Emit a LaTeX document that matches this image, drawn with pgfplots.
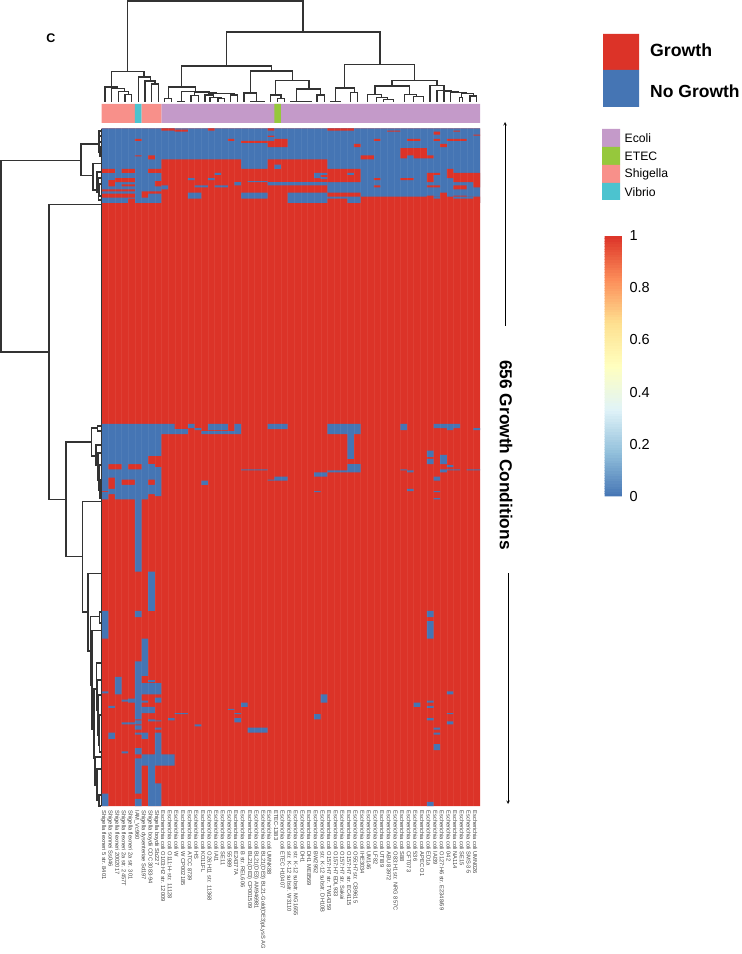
\documentclass[border=0pt]{standalone}
\usepackage{fontspec}
\setmainfont{Liberation Sans}
\usepackage{pgfplots}
\pgfplotsset{compat=1.18}
\definecolor{cgrow}{HTML}{DC3328}
\definecolor{cno}{HTML}{4575B4}
\definecolor{cecoli}{HTML}{C49AC9}
\definecolor{cetec}{HTML}{96C83C}
\definecolor{cshig}{HTML}{F8908A}
\definecolor{cvib}{HTML}{4CC3CF}
\definecolor{cdend}{HTML}{333333}
\definecolor{b1}{HTML}{91BFDB}\definecolor{b2}{HTML}{E0F3F8}\definecolor{b3}{HTML}{FFFFBF}\definecolor{b4}{HTML}{FEE090}\definecolor{b5}{HTML}{FC8D59}
\pgfplotsset{colormap={rdylbu}{color(0)=(cno) color(1)=(b1) color(2)=(b2) color(3)=(b3) color(4)=(b4) color(5)=(b5) color(6)=(cgrow)}}
% heat map blocks: row from/row to/column from/column to
\def\BlueTop{0/72/0/57}
\def\RedTop{0/2/9/11,1/3/11/13,0/2/16/17,0/2/25/26,0/2/34/38,2/3/43/45,3/6/50/51,2/3/53/54,6/7/56/57,7/8/25/26,
10/12/5/6,10/12/19/20,10/12/41/42,10/12/46/48,10/12/50/51,10/12/52/55,12/14/21/25,12/18/25/26,10/18/26/28,
15/18/38/39,15/18/51/52,19/29/45/46,19/26/46/47,19/29/47/49,26/29/49/50,
26/27/5/6,26/30/7/8,26/30/39/41,
30/39/9/21,30/39/25/34,39/52/9/39,39/43/0/2,39/43/3/5,39/43/7/9,
39/48/52/53,43/52/49/50,43/45/50/51,43/52/53/57,52/57/56/57,48/52/2/5,51/56/8/9,
52/62/9/34,62/66/34/39,54/56/3/5,50/56/1/2,59/61/0/5,61/63/6/9,63/67/0/5,63/67/6/7,
62/72/9/21,62/68/25/28,68/72/21/28,68/72/34/37,66/72/39/57,68/72/4/5,
55/57/41/42,55/57/49/51,55/59/53/55,65/68/49/50,62/66/51/52,65/66/53/55,48/50/41/42,48/50/45/47}
\def\BlueRest{35/39/26/27,43/48/32/33,43/45/33/34,47/49/33/34,43/45/37/38,43/45/17/18,48/50/13/14,48/50/16/17,51/52/22/25,
52/55/20/21,52/55/25/34,55/57/14/16,55/57/17/19,55/59/9/10,62/68/13/15,66/68/50/51,66/68/53/56,
286/317/0/9,317/325/0/7,325/330/0/1,325/330/3/4,325/330/6/8,328/330/8/9,330/338/0/9,338/340/0/1,338/340/2/9,
340/345/0/1,340/345/2/3,340/345/5/7,340/345/8/9,345/349/0/1,345/349/2/9,349/351/0/9,352/354/0/9,351/352/1/9,
354/356/0/1,354/356/2/7,354/356/8/9,356/359/0/1,356/359/2/7,359/429/5/6,
286/293/9/11,291/296/9/13,286/290/13/14,290/292/14/15,293/296/15/21,286/292/16/19,286/293/20/21,286/291/25/28,
286/296/34/39,296/320/37/38,325/333/37/39,331/333/34/37,333/337/32/34,330/331/21/25,340/341/25/28,337/341/26/28,
341/345/15/16,351/352/32/33,286/292/45/46,286/290/50/54,290/292/52/53,290/292/56/57,312/318/49/50,320/325/49/50,
316/325/51/52,326/328/52/53,330/333/51/52,330/331/52/54,330/331/55/57,330/331/45/46,331/333/46/47,337/341/50/51,
349/351/46/47,351/352/50/51,358/359/50/51,
429/467/7/8,467/473/5/6,467/494/0/1,467/473/49/50,477/494/49/50,494/516/6/7,516/530/5/7,530/537/5/6,534/536/7/8,
537/548/5/9,531/548/2/3,545/547/0/1,553/555/3/5,552/556/4/6,548/567/5/6,551/556/8/9,560/566/6/8,554/556/6/7,
559/561/1/2,567/572/5/6,573/577/5/6,578/582/5/6,572/574/7/8,573/574/8/9,580/582/8/9,575/577/3/5,
566/567/11/13,571/573/10/11,577/579/14/15,562/563/19/20,566/567/20/21,571/575/20/21,556/560/21/22,580/585/22/25,
548/556/33/34,567/572/32/33,556/560/47/48,554/556/49/50,559/561/49/50,571/573/49/50,580/582/50/51,585/587/50/51,
596/602/50/51,545/548/52/53,566/567/52/53,574/577/52/53,585/591/1/2,585/587/5/7,587/591/6/7,585/606/8/9,
603/605/3/4,600/606/5/6,606/617/6/11,610/617/5/6,617/644/5/6,649/656/5/6,617/656/7/8,634/656/8/9,644/656/0/1,652/656/49/50}
\def\pathBlueA{}\def\pathRed{}\def\pathBlueB{}
\foreach \ra/\rb/\ca/\cb in \BlueTop {\xdef\pathBlueA{\pathBlueA (\ca,\ra)(\cb,\ra)(\cb,\rb)(\ca,\rb)(\ca,\ra)(nan,nan)}}
\foreach \ra/\rb/\ca/\cb in \RedTop {\xdef\pathRed{\pathRed (\ca,\ra)(\cb,\ra)(\cb,\rb)(\ca,\rb)(\ca,\ra)(nan,nan)}}
\foreach \ra/\rb/\ca/\cb in \BlueRest {\xdef\pathBlueB{\pathBlueB (\ca,\ra)(\cb,\ra)(\cb,\rb)(\ca,\rb)(\ca,\ra)(nan,nan)}}
\begin{document}
\begin{tikzpicture}[x=1bp,y=1bp]
\useasboundingbox (0,0) rectangle (742,954);
% heat map
\begin{axis}[at={(101.7bp,148bp)},anchor=south west,scale only axis,width=378.3bp,height=677.5bp,
  xmin=0,xmax=57,ymin=0,ymax=656,y dir=reverse,axis on top,clip=true,
  axis line style={draw=none},major tick length=0,minor tick length=0,
  point meta min=0,point meta max=1,unbounded coords=jump,
  xtick={0.5,1.5,...,56.5},ytick=\empty,
  minor xtick={1,2,...,56},minor ytick={2,4,...,654},
  xminorgrids=true,yminorgrids=true,
  minor grid style={white,opacity=0.06,line width=0.35bp},
  xticklabels={Shigella flexneri 5 str. 8401,Shigella sonnei Ss046,Shigella flexneri 2002017,Shigella flexneri 2a str. 2457T,Shigella flexneri 2a str. 301,IAM\_Vc960,Shigella dysenteriae Sd197,Shigella boydii CDC 3083-94,Shigella boydii Sb227,
  Escherichia coli O103:H2 str. 12009,Escherichia coli O111:H- str. 11128,Escherichia coli W,Escherichia coli W CP002185,Escherichia coli ATCC 8739,Escherichia coli HS,Escherichia coli KO11FL,Escherichia coli O26:H11 str. 11368,Escherichia coli IAI1,Escherichia coli SE11,Escherichia coli 55989,Escherichia coli E24377A,Escherichia coli B str. REL606,Escherichia coli BL21(DE3) CP001509,Escherichia coli BL21(DE3) AM946981,Escherichia coli BL21(DE3) BL21-Gold(DE3)pLysS AG,Escherichia coli UMNK88,ETEC-1383,Escherichia coli ETEC H10407,Escherichia coli str. K-12 substr. W3110,Escherichia coli str. K-12 substr. MG1655,Escherichia coli DH1,Escherichia coli DH1 ME8569,Escherichia coli BW2952,Escherichia coli str. K-12 substr. DH10B,Escherichia coli O157:H7 str. TW14359,Escherichia coli O157:H7 EDL933,Escherichia coli O157:H7 str. Sakai,Escherichia coli O157:H7 str. EC4115,Escherichia coli O55:H7 str. CB9615,Escherichia coli IHE3034,Escherichia coli UM146,Escherichia coli LF82,Escherichia coli UTI89,Escherichia coli ABU 83972,Escherichia coli O83:H1 str. NRG 857C,Escherichia coli S88,Escherichia coli CFT073,Escherichia coli 536,Escherichia coli APEC O1,Escherichia coli ED1a,Escherichia coli IAI39,Escherichia coli O127:H6 str. E2348/69,Escherichia coli 042,Escherichia coli NA114,Escherichia coli SE15,Escherichia coli SMS-3-5,Escherichia coli UMN026},
  xticklabel style={rotate=-90,anchor=west,font=\fontsize{5.7bp}{6.5bp}\selectfont,text=black!75,inner xsep=0pt,xshift=-0.2bp,yshift=-1.5bp,inner ysep=0pt},
  xticklabel shift=4.5bp,
  colorbar sampled,
  colormap name=rdylbu,
  colorbar style={samples=101,at={(parent axis.north west)},anchor=north west,xshift=494.3bp,yshift=-107.3bp,
    width=18bp,height=260.5bp,ytick={0,0.2,0.4,0.6,0.8,1},major tick length=0,axis line style={draw=none},
    yticklabel style={font=\fontsize{14.5bp}{16bp}\selectfont,/pgf/number format/assume math mode=true,xshift=3.5bp}},
]
\addplot[fill=cgrow,draw=none] coordinates {(0,0)(57,0)(57,656)(0,656)(0,0)};
\edef\tmp{\noexpand\addplot[fill=cno,draw=none] coordinates {\pathBlueA};}\tmp
\edef\tmp{\noexpand\addplot[fill=cgrow,draw=none] coordinates {\pathRed};}\tmp
\edef\tmp{\noexpand\addplot[fill=cno,draw=none] coordinates {\pathBlueB};}\tmp
\end{axis}
% annotation bar
\begin{axis}[at={(101.7bp,831bp)},anchor=south west,scale only axis,width=378.3bp,height=19bp,
  xmin=0,xmax=57,ymin=0,ymax=1,hide axis]
\addplot[fill=cecoli,draw=none] coordinates {(9,0)(57,0)(57,1)(9,1)(9,0)};
\addplot[fill=cetec,draw=none] coordinates {(26,0)(27,0)(27,1)(26,1)(26,0)};
\addplot[fill=cshig,draw=none] coordinates {(0,0)(5,0)(5,1)(0,1)(0,0)};
\addplot[fill=cvib,draw=none] coordinates {(5,0)(6,0)(6,1)(5,1)(5,0)};
\addplot[fill=cshig,draw=none] coordinates {(6,0)(9,0)(9,1)(6,1)(6,0)};
\end{axis}
% top dendrogram (x: 35..1170, y: 0..305 down)
\begin{axis}[at={(101.7bp,852.3bp)},anchor=south west,scale only axis,width=378.3bp,height=101.7bp,
  xmin=35,xmax=1170,ymin=0,ymax=305,y dir=reverse,hide axis,clip=false,unbounded coords=jump]
\addplot[cdend,line width=1.1bp,line cap=butt,line join=miter] coordinates {
(113,215)(113,3)(639,3)(639,96)(nan,nan)
(409,198)(409,96)(870,96)(870,193)(nan,nan)
(275,261)(275,198)(545,198)(545,213)(nan,nan)
(481,279)(481,213)(607,213)(607,241)(nan,nan)
(557,285)(557,241)(657,241)(657,267)(nan,nan)
(619,305)(619,267)(692,267)(692,285)(nan,nan)
(681,305)(681,285)(703,285)(703,305)(nan,nan)
(600,304)(665,304)(nan,nan)
(541,305)(541,285)(573,285)(573,296)(nan,nan)
(562,305)(562,296)(583,296)(583,305)(nan,nan)
(462,305)(462,279)(499,279)(499,304)(nan,nan)
(480,304)(524,304)(nan,nan)
(235,295)(235,261)(316,261)(316,275)(nan,nan)
(224,305)(224,295)(245,295)(245,305)(nan,nan)
(275,304)(275,275)(358,275)(358,278)(nan,nan)
(262,304)(285,304)(nan,nan)
(314,287)(314,278)(378,278)(378,281)(nan,nan)
(303,305)(303,287)(325,287)(325,305)(nan,nan)
(355,285)(355,281)(433,281)(433,285)(nan,nan)
(422,305)(422,285)(443,285)(443,305)(nan,nan)
(345,305)(345,285)(370,285)(370,292)(nan,nan)
(360,305)(360,292)(395,292)(395,295)(nan,nan)
(384,305)(384,295)(404,295)(404,305)(nan,nan)
(764,264)(764,193)(973,193)(973,241)(nan,nan)
(736,304)(736,264)(793,264)(793,278)(nan,nan)
(720,304)(752,304)(nan,nan)
(782,305)(782,278)(803,278)(803,305)(nan,nan)
(906,258)(906,241)(1041,241)(1041,256)(nan,nan)
(855,284)(855,258)(959,258)(959,284)(nan,nan)
(832,305)(832,284)(875,284)(875,293)(nan,nan)
(860,305)(860,293)(892,293)(892,299)(nan,nan)
(880,305)(880,299)(910,299)(910,305)(nan,nan)
(943,305)(943,284)(980,284)(980,290)(nan,nan)
(970,305)(970,290)(1000,290)(1000,305)(nan,nan)
(1020,305)(1020,256)(1062,256)(1062,271)(nan,nan)
(1041,305)(1041,271)(1083,271)(1083,274)(nan,nan)
(1062,305)(1062,274)(1105,274)(1105,278)(nan,nan)
(1082,305)(1082,278)(1128,278)(1128,281)(nan,nan)
(1109,305)(1109,292)(1118,292)(1118,305)(nan,nan)
(1114,292)(1114,281)(1150,281)(1150,288)(nan,nan)
(1140,305)(1140,288)(1160,288)(1160,305)(nan,nan)
(64,261)(64,215)(162,215)(162,231)(nan,nan)
(45,305)(45,261)(83,261)(83,266)(nan,nan)
(64,305)(64,266)(103,266)(103,275)(nan,nan)
(85,305)(85,275)(115,275)(115,283)(nan,nan)
(105,305)(105,283)(125,283)(125,305)(nan,nan)
(145,305)(145,231)(182,231)(182,243)(nan,nan)
(165,305)(165,243)(195,243)(195,252)(nan,nan)
(185,305)(185,252)(205,252)(205,305)(nan,nan)
};
\end{axis}
% page-scale axis: left dendrogram, legends, notes
\begin{axis}[at={(0bp,0bp)},anchor=south west,scale only axis,width=742bp,height=954bp,
  xmin=0,xmax=742,ymin=0,ymax=954,y dir=reverse,hide axis,clip=false,unbounded coords=jump]
\addplot[cdend,line width=1.05bp] coordinates {
(81,160.7)(1,160.7)(1,352)(49,352)(nan,nan)
(99.3,144)(81,144)(81,175.7)(93,175.7)(nan,nan)
(101,131)(99,131)(99,152)(100,152)(nan,nan)
(101,136)(99.7,136)(99.7,142)(101,142)(nan,nan)
(100,146)(100,156)(101,156)(nan,nan)
(101,163.5)(93,163.5)(93,190)(98.7,190)(nan,nan)
(101,178)(98.7,178)(98.7,200)(101,200)(nan,nan)
(101,172)(97,172)(97,192)(98.7,192)(nan,nan)
(101,184)(99.5,184)(99.5,196)(101,196)(nan,nan)
(101,204.7)(49,204.7)(49,499.7)(66,499.7)(nan,nan)
(91.7,442)(66,442)(66,556.7)(82.7,556.7)(nan,nan)
(97.7,428)(91.7,428)(91.7,456)(96,456)(nan,nan)
(101,426)(97.7,426)(97.7,431)(101,431)(nan,nan)
(101,445)(96,445)(96,465)(98,465)(nan,nan)
(101,453)(98,453)(98,480)(99,480)(nan,nan)
(101,465)(99,465)(99,490)(100,490)(nan,nan)
(101,480)(100,480)(100,498)(101,498)(nan,nan)
(101,501.7)(82.7,501.7)(82.7,612)(88,612)(nan,nan)
(101,573.7)(88,573.7)(88,651)(90.3,651)(nan,nan)
(99.7,616.7)(90.3,616.7)(90.3,685)(92,685)(nan,nan)
(101,612)(99.7,612)(99.7,623)(101,623)(nan,nan)
(101,630.7)(92,630.7)(92,729)(94,729)(nan,nan)
(96.7,689)(94,689)(94,758)(95,758)(nan,nan)
(101,663)(96.7,663)(96.7,710)(97.5,710)(nan,nan)
(101,680)(97.5,680)(97.5,735)(98.5,735)(nan,nan)
(101,695)(98.5,695)(98.5,745)(99.5,745)(nan,nan)
(101,715)(99.5,715)(99.5,752)(101,752)(nan,nan)
(101,757)(95,757)(95,785)(97,785)(nan,nan)
(101,769)(97,769)(97,800)(99,800)(nan,nan)
(101,795)(99,795)(99,806)(101,806)(nan,nan)
};
\addplot[cdend,line width=0.8bp] coordinates {(101.2,129)(101.2,806)};
% Growth legend
\addplot[fill=cgrow,draw=none] coordinates {(603,34)(639,34)(639,70)(603,70)(603,34)};
\addplot[fill=cno,draw=none] coordinates {(603,70)(639,70)(639,107)(603,107)(603,70)};
\node[anchor=west,inner sep=0pt,font=\fontsize{17.7bp}{20bp}\selectfont\bfseries] at (axis cs:650,50.5) {Growth};
\node[anchor=west,inner sep=0pt,font=\fontsize{17.5bp}{20bp}\selectfont\bfseries] at (axis cs:650,91.5) {No Growth};
% strain legend
\addplot[fill=cecoli,draw=none] coordinates {(602,129)(620,129)(620,147)(602,147)(602,129)};
\addplot[fill=cetec,draw=none] coordinates {(602,147)(620,147)(620,165)(602,165)(602,147)};
\addplot[fill=cshig,draw=none] coordinates {(602,165)(620,165)(620,183)(602,183)(602,165)};
\addplot[fill=cvib,draw=none] coordinates {(602,183)(620,183)(620,200)(602,200)(602,183)};
\node[anchor=west,inner sep=0pt,font=\fontsize{12.2bp}{14bp}\selectfont] at (axis cs:624.5,138) {Ecoli};
\node[anchor=west,inner sep=0pt,font=\fontsize{12.2bp}{14bp}\selectfont] at (axis cs:624.5,156) {ETEC};
\node[anchor=west,inner sep=0pt,font=\fontsize{12.2bp}{14bp}\selectfont] at (axis cs:624.5,174) {Shigella};
\node[anchor=west,inner sep=0pt,font=\fontsize{12.2bp}{14bp}\selectfont] at (axis cs:624.5,192) {Vibrio};
% notes
\node[inner sep=0pt,font=\fontsize{12.5bp}{14bp}\selectfont\bfseries] at (axis cs:51,38) {C};
\node[rotate=-90,inner sep=0pt,font=\fontsize{17.3bp}{20bp}\selectfont\bfseries] at (axis cs:506,455) {656 Growth Conditions};
\addplot[black,line width=0.6bp,->,>=stealth] coordinates {(505,326)(505,122)};
\addplot[black,line width=0.6bp,->,>=stealth] coordinates {(508,573)(508,804)};
\end{axis}
\end{tikzpicture}
\end{document}
